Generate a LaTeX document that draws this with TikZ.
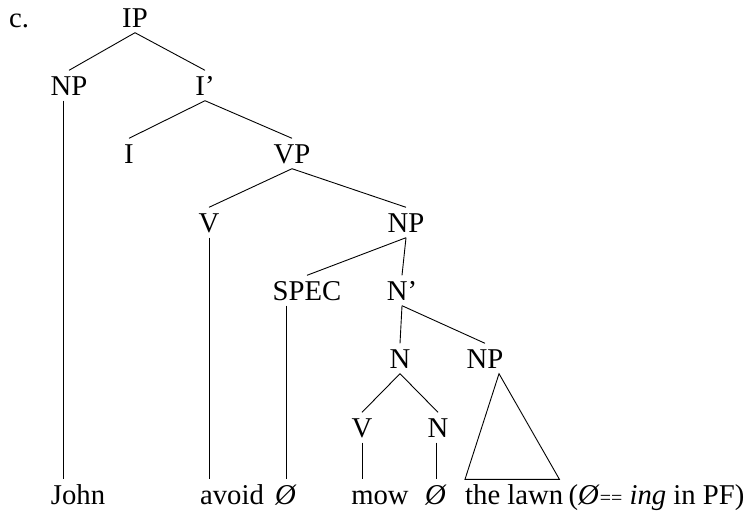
\documentclass[tikz,border=0pt]{standalone}
\usepackage{fontspec}
\setmainfont{Liberation Serif}
\newcommand{\treefont}{\fontsize{28.7}{34}\selectfont}
\newcommand{\smalleq}{{\fontsize{20}{24}\selectfont ==}}
\tikzset{
  cat/.style={anchor=base,inner xsep=1pt,inner ysep=5.5pt,text height=19pt,text depth=0pt,font=\treefont},
  word/.style={cat,inner xsep=0pt},
  branch/.style={line width=0.9pt}
}
\begin{document}
\begin{tikzpicture}[x=1pt,y=-1pt]
    \useasboundingbox (0,0) rectangle (746,512);
    \node[cat,anchor=base west] (label) at (8,27) {c.};
    \node[cat] (ip) at (135,27) {IP};
    \node[cat] (np1) at (69,95) {NP};
    \node[cat] (ibar) at (205,95) {I’};
    \node[cat] (i) at (129,163) {I};
    \node[cat] (vp) at (292,163) {VP};
    \node[cat] (v1) at (209,232) {V};
    \node[cat] (np2) at (406,232) {NP};
    \node[cat] (spec) at (307,300) {SPEC};
    \node[cat] (nbar) at (402,300) {N’};
    \node[cat] (n1) at (400,368) {N};
    \node[cat] (np3) at (485,368) {NP};
    \node[cat] (v2) at (362,437) {V};
    \node[cat] (n2) at (438,437) {N};
    % terminals
    \node[word] (john) at (78,504) {John};
    \node[word] (avoid) at (232,504) {avoid};
    \node[word] (null1) at (286,504) {\textit{Ø}};
    \node[word] (mow) at (380,504) {mow};
    \node[word] (null2) at (436,504) {\textit{Ø}};
    \node[word,anchor=base west] (lawn) at (465,504) {the lawn};
    \node[word,anchor=base west] (gloss) at ([xshift=5pt]lawn.base east) {(\textit{Ø}\smalleq\ \textit{ing} in PF)};
    % branches
    \draw[branch] (ip.south) -- (np1.north);
    \draw[branch] (ip.south) -- (ibar.north);
    \draw[branch] (ibar.south) -- (i.north);
    \draw[branch] (ibar.south) -- (vp.north);
    \draw[branch] (vp.south) -- (v1.north);
    \draw[branch] (vp.south) -- (np2.north);
    \draw[branch] (np2.south) -- (spec.north);
    \draw[branch] (np2.south) -- (nbar.north);
    \draw[branch] (nbar.south) -- (n1.north);
    \draw[branch] (nbar.south) -- (np3.north);
    \draw[branch] (n1.south) -- (v2.north);
    \draw[branch] (n1.south) -- (n2.north);
    \draw[branch] ([xshift=-6pt]np1.south) -- ([xshift=-6pt]np1.south |- john.north);
    \draw[branch] (v1.south) -- (v1.south |- avoid.north);
    \draw[branch] (spec.south -| null1.north) -- (null1.north);
    \draw[branch] (v2.south) -- (v2.south |- mow.north);
    \draw[branch] (n2.south -| null2.north) -- (null2.north);
    \draw[branch] ([xshift=14pt]np3.south) -- (lawn.north west) -- ([xshift=-4pt]lawn.north east) -- cycle;
\end{tikzpicture}
\end{document}
